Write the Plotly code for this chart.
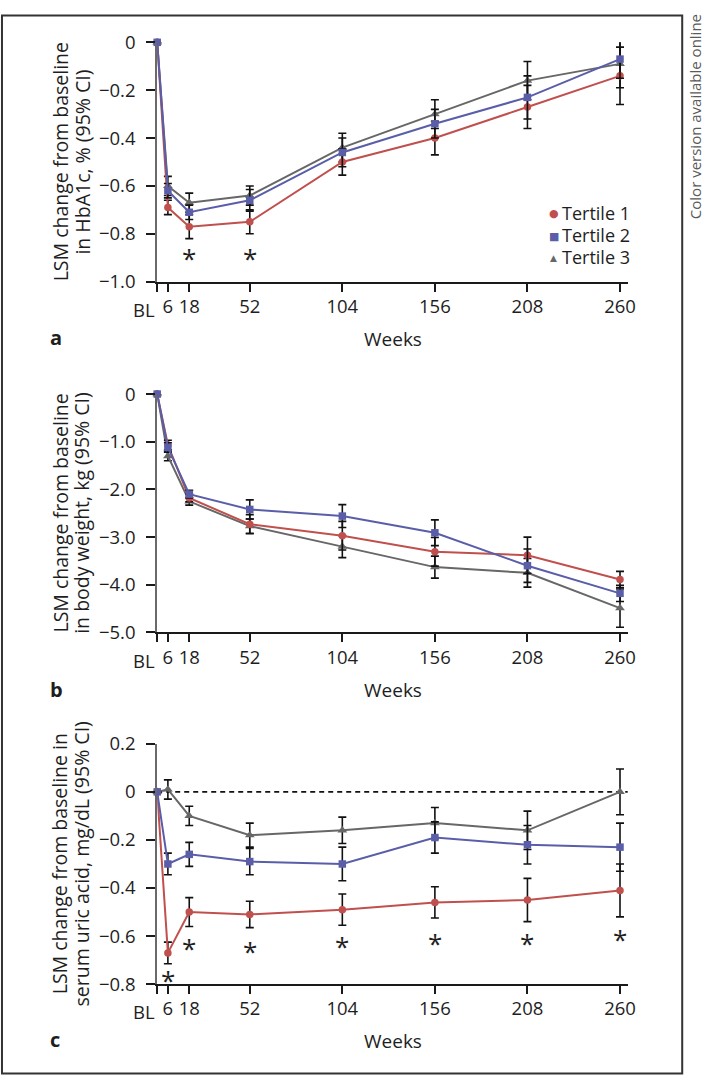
import plotly.graph_objects as go

# ---------------- data ----------------
weeks = [0, 6, 18, 52, 104, 156, 208, 260]
week_labels = ["", "6", "18", "52", "104", "156", "208", "260"]
baseline_label = "BL"
tertiles = ["Tertile 1", "Tertile 2", "Tertile 3"]

# Panel a: HbA1c (%)
a_t1 = [0, -0.69, -0.77, -0.75, -0.50, -0.40, -0.27, -0.14]
a_t2 = [0, -0.62, -0.71, -0.66, -0.46, -0.34, -0.23, -0.07]
a_t3 = [0, -0.60, -0.67, -0.64, -0.44, -0.30, -0.16, -0.09]
a_t1_ci = [0, 0.03, 0.05, 0.05, 0.055, 0.07, 0.09, 0.12]
a_t2_ci = [0, 0.03, 0.03, 0.045, 0.06, 0.06, 0.09, 0.08]
a_t3_ci = [0, 0.04, 0.04, 0.04, 0.06, 0.06, 0.08, 0.10]
a_star_weeks = [18, 52]
a_star_y = [-0.88, -0.88]

# Panel b: body weight (kg)
b_t1 = [0, -1.07, -2.18, -2.73, -2.97, -3.31, -3.38, -3.89]
b_t2 = [0, -1.12, -2.10, -2.42, -2.56, -2.91, -3.60, -4.18]
b_t3 = [0, -1.30, -2.25, -2.77, -3.20, -3.63, -3.75, -4.49]
b_t1_ci = [0, 0.10, 0.08, 0.20, 0.30, 0.30, 0.38, 0.17]
b_t2_ci = [0, 0.10, 0.08, 0.20, 0.24, 0.27, 0.35, 0.17]
b_t3_ci = [0, 0.10, 0.08, 0.15, 0.23, 0.23, 0.30, 0.40]

# Panel c: serum uric acid (mg/dL)
c_t1 = [0, -0.67, -0.50, -0.51, -0.49, -0.46, -0.45, -0.41]
c_t2 = [0, -0.30, -0.26, -0.29, -0.30, -0.19, -0.22, -0.23]
c_t3 = [0, 0.01, -0.10, -0.18, -0.16, -0.13, -0.16, 0.00]
c_t1_ci = [0, 0.045, 0.06, 0.055, 0.065, 0.065, 0.09, 0.11]
c_t2_ci = [0, 0.045, 0.05, 0.055, 0.07, 0.065, 0.08, 0.10]
c_t3_ci = [0, 0.04, 0.04, 0.05, 0.055, 0.065, 0.08, 0.095]
c_star_weeks = [6, 18, 52, 104, 156, 208, 260]
c_star_y = [-0.76, -0.63, -0.64, -0.62, -0.61, -0.61, -0.59]

a_ticks = [-1.0, -0.8, -0.6, -0.4, -0.2, 0]
a_ticktext = ["\u22121.0", "\u22120.8", "\u22120.6", "\u22120.4", "\u22120.2", "0"]
b_ticks = [-5, -4, -3, -2, -1, 0]
b_ticktext = ["\u22125.0", "\u22124.0", "\u22123.0", "\u22122.0", "\u22121.0", "0"]
c_ticks = [-0.8, -0.6, -0.4, -0.2, 0, 0.2]
c_ticktext = ["\u22120.8", "\u22120.6", "\u22120.4", "\u22120.2", "0", "0.2"]

ytitle_lines = [
    ("LSM change from baseline", "in HbA1c, % (95% CI)"),
    ("LSM change from baseline", "in body weight, kg (95% CI)"),
    ("LSM change from baseline in", "serum uric acid, mg/dL (95% CI)"),
]

# ---------------- style ----------------
W, H = 709, 1086
FONT = "Open Sans"
TXT = "#1e1e1e"
RED, BLUE, GREY = "#c0504d", "#5a5ea8", "#676767"
colors = {"Tertile 1": RED, "Tertile 2": BLUE, "Tertile 3": GREY}
symbols = {"Tertile 1": "circle", "Tertile 2": "square", "Tertile 3": "triangle-up"}
msize = {"Tertile 1": 7.5, "Tertile 2": 7.5, "Tertile 3": 8.5}
glyphs = {"Tertile 1": ("\u25cf", 11), "Tertile 2": ("\u25a0", 11), "Tertile 3": ("\u25b2", 9)}
TICK_FS = 18.5


def px(x):
    return x / W


def py(y):
    return 1 - y / H


X_END = 264.4

fig = go.Figure()

panels = [
    dict(xa="x", ya="y", data={"Tertile 1": (a_t1, a_t1_ci), "Tertile 2": (a_t2, a_t2_ci), "Tertile 3": (a_t3, a_t3_ci)}),
    dict(xa="x2", ya="y2", data={"Tertile 1": (b_t1, b_t1_ci), "Tertile 2": (b_t2, b_t2_ci), "Tertile 3": (b_t3, b_t3_ci)}),
    dict(xa="x3", ya="y3", data={"Tertile 1": (c_t1, c_t1_ci), "Tertile 2": (c_t2, c_t2_ci), "Tertile 3": (c_t3, c_t3_ci)}),
]

draw_order = ["Tertile 3", "Tertile 1", "Tertile 2"]
for p in panels:
    for name in draw_order:
        vals, ci = p["data"][name]
        fig.add_trace(go.Scatter(
            x=weeks, y=vals, mode="lines+markers", name=name, showlegend=False,
            xaxis=p["xa"], yaxis=p["ya"], cliponaxis=False,
            line=dict(color=colors[name], width=2),
            marker=dict(symbol=symbols[name], size=msize[name], color=colors[name]),
            error_y=dict(type="data", array=ci, visible=True, color="#111111",
                         thickness=1.6, width=4),
        ))

xdom = [px(159), px(635)]
ydoms = [[py(274), py(29)], [py(633), py(389)], [py(993), py(747)]]
yranges = [[-1.0, 0], [-5.0, 0], [-0.8, 0.2]]
yticks = [(a_ticks, a_ticktext), (b_ticks, b_ticktext), (c_ticks, c_ticktext)]
xaxis_px = [274, 633, 993]
ycenters = [151.5, 511, 870]

layout = dict(
    width=W, height=H, margin=dict(l=0, r=0, t=0, b=0),
    paper_bgcolor="white", plot_bgcolor="white",
    font=dict(family=FONT, size=18, color=TXT),
    showlegend=False,
)

for i in range(3):
    sfx = "" if i == 0 else str(i + 1)
    layout["xaxis" + sfx] = dict(
        domain=xdom, range=[0, X_END], anchor="y" + sfx,
        tickmode="array", tickvals=weeks, ticktext=week_labels, tickangle=0,
        showline=True, linecolor="#1a1a1a", linewidth=2,
        ticks="outside", ticklen=8, tickwidth=1.6, tickcolor="#1a1a1a",
        ticklabelstandoff=-1,
        showgrid=False, zeroline=False, fixedrange=True,
        tickfont=dict(size=TICK_FS, color=TXT),
    )
    layout["yaxis" + sfx] = dict(
        domain=ydoms[i], range=yranges[i], anchor="x" + sfx,
        tickmode="array", tickvals=yticks[i][0], ticktext=yticks[i][1],
        showline=True, linecolor="#6a6a6a", linewidth=2,
        ticks="outside", ticklen=9, tickwidth=1.6, tickcolor="#1a1a1a",
        ticklabelstandoff=7,
        showgrid=False, zeroline=False, fixedrange=True,
        tickfont=dict(size=TICK_FS, color=TXT),
    )

fig.update_layout(**layout)

annotations = []
# y-axis titles, one annotation per line (rotated)
for (l1, l2), yc in zip(ytitle_lines, ycenters):
    for text, xc in [(l1, 61), (l2, 82.5)]:
        annotations.append(dict(text=text, x=px(xc), y=py(yc), xref="paper", yref="paper",
                                textangle=-90, showarrow=False, xanchor="center", yanchor="middle",
                                font=dict(size=19.5, color=TXT)))

# "BL" baseline tick label, right-aligned against the axis like the reference
for i, ax_y in enumerate(xaxis_px):
    sfx = "" if i == 0 else str(i + 1)
    annotations.append(dict(text=baseline_label, x=0, y=py(ax_y + 28.5), xref="x" + sfx, yref="paper",
                            showarrow=False, xanchor="right", yanchor="middle",
                            font=dict(size=TICK_FS, color=TXT)))

for lab, yc in [("a", 331.5), ("b", 691.5), ("c", 1049.5)]:
    annotations.append(dict(text="<b>%s</b>" % lab, x=px(49), y=py(yc), xref="paper", yref="paper",
                            showarrow=False, xanchor="left", yanchor="middle",
                            font=dict(size=20, color=TXT)))

for yc in [332.3, 692.3, 1051]:
    annotations.append(dict(text="Weeks", x=px(397.5), y=py(yc), xref="paper", yref="paper",
                            showarrow=False, xanchor="center", yanchor="middle",
                            font=dict(size=19, color=TXT)))

for wk, yv in zip(a_star_weeks, a_star_y):
    annotations.append(dict(text="*", x=wk, y=yv, xref="x", yref="y", showarrow=False,
                            xanchor="center", yanchor="middle", yshift=-5,
                            font=dict(size=26, color=TXT)))
for wk, yv in zip(c_star_weeks, c_star_y):
    annotations.append(dict(text="*", x=wk, y=yv, xref="x3", yref="y3", showarrow=False,
                            xanchor="center", yanchor="middle", yshift=-5,
                            font=dict(size=26, color=TXT)))

# legend: marker glyph + label
for name, yc in zip(tertiles, [203.5, 226.5, 249]):
    g, gs = glyphs[name]
    annotations.append(dict(text=g, x=px(560), y=py(yc + 1), xref="paper", yref="paper",
                            showarrow=False, xanchor="center", yanchor="middle",
                            font=dict(family="DejaVu Sans", size=gs, color=colors[name])))
    annotations.append(dict(text=name, x=px(566.5), y=py(yc), xref="paper", yref="paper",
                            showarrow=False, xanchor="left", yanchor="middle",
                            font=dict(size=18, color=TXT)))

annotations.append(dict(text="Color version available online", x=px(702.5), y=py(105),
                        xref="paper", yref="paper", textangle=-90, showarrow=False,
                        xanchor="center", yanchor="middle",
                        font=dict(size=15, color="#5a5a5a")))

fig.update_layout(annotations=annotations)

fig.add_shape(type="rect", xref="paper", yref="paper",
              x0=px(2), x1=px(690), y0=py(1084.5), y1=py(1.5),
              line=dict(color="#333333", width=2), layer="below")
fig.add_shape(type="line", xref="x3", yref="y3", x0=0, x1=X_END, y0=0, y1=0,
              line=dict(color="#111111", width=1.6, dash="5px,4px"), layer="below")

fig.write_html(
    "out.html",
    config={"displayModeBar": False},
    post_script=(
        "document.body.style.margin='0';"
        "document.body.style.overflow='hidden';"
        "document.documentElement.style.overflow='hidden';"
    ),
)
